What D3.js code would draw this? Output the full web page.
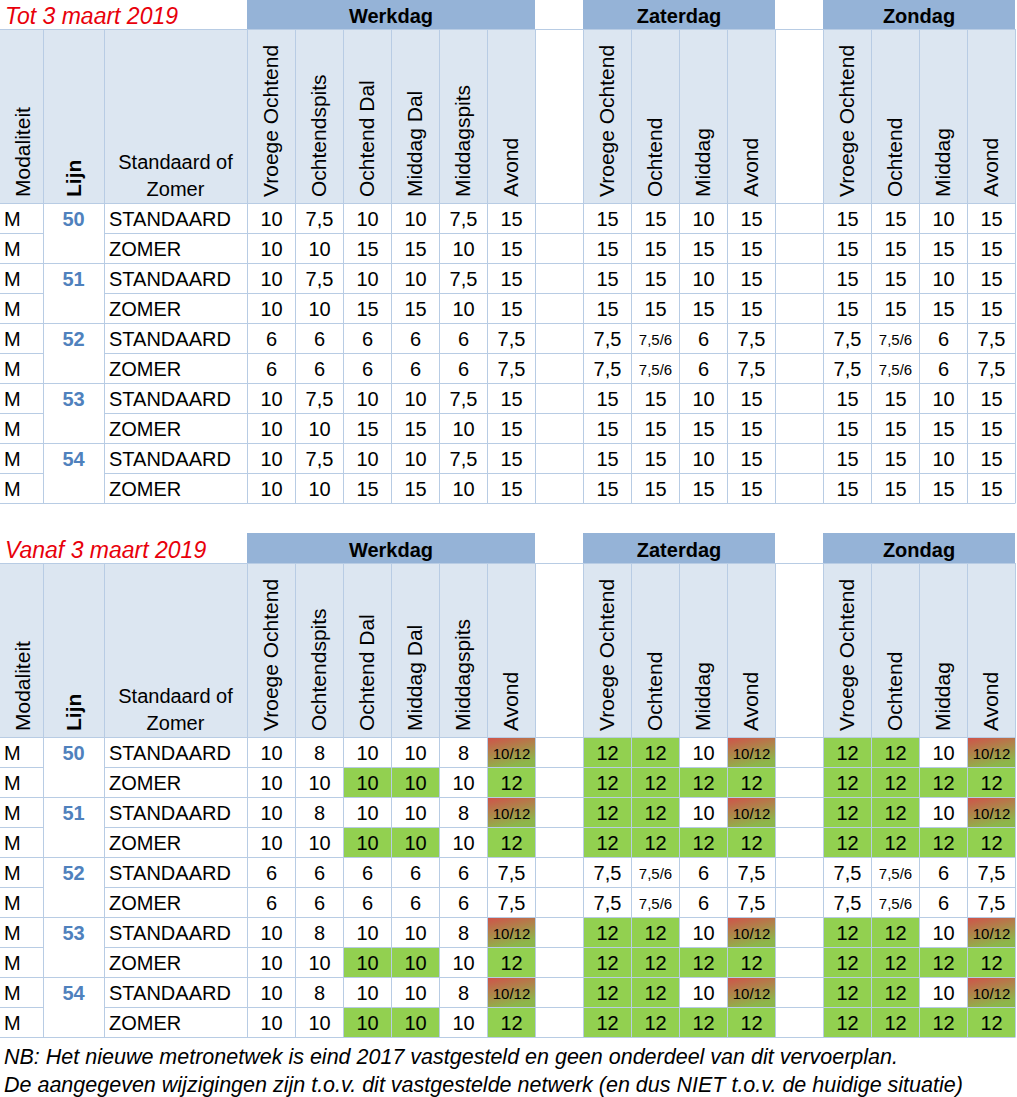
<!DOCTYPE html>
<html>
<head>
<meta charset="utf-8">
<script src="https://d3js.org/d3.v7.min.js"></script>
<style>
  body { margin: 0; background: #fff; }
  text { font-family: "Liberation Sans", Arial, sans-serif; }
</style>
</head>
<body>
<svg id="chart"></svg>
<script>
// ---- data ----
const lijnen = ["50", "51", "52", "53", "54"];
const varianten = ["STANDAARD", "ZOMER"];
const dagen = ["Werkdag", "Zaterdag", "Zondag"];
const dagdelenWerkdag = ["Vroege Ochtend", "Ochtendspits", "Ochtend Dal", "Middag Dal", "Middagspits", "Avond"];
const dagdelenWeekend = ["Vroege Ochtend", "Ochtend", "Middag", "Avond"];
const titels = ["Tot 3 maart 2019", "Vanaf 3 maart 2019"];

const totStandaard = ["10", "7,5", "10", "10", "7,5", "15", "15", "15", "10", "15", "15", "15", "10", "15"];
const totZomer     = ["10", "10", "15", "15", "10", "15", "15", "15", "15", "15", "15", "15", "15", "15"];
const tot52        = ["6", "6", "6", "6", "6", "7,5", "7,5", "7,5/6", "6", "7,5", "7,5", "7,5/6", "6", "7,5"];

const vanafStandaard = ["10", "8", "10", "10", "8", "10/12", "12", "12", "10", "10/12", "12", "12", "10", "10/12"];
const vanafZomer     = ["10", "10", "10", "10", "10", "12", "12", "12", "12", "12", "12", "12", "12", "12"];
const vanaf52        = tot52;

// g = groen (verhoogd), r = overgang 10/12
const kleurStandaard = ["", "", "", "", "", "r", "g", "g", "", "r", "g", "g", "", "r"];
const kleurZomer     = ["", "", "g", "g", "", "g", "g", "g", "g", "g", "g", "g", "g", "g"];

const voetnoten = [
  "NB: Het nieuwe metronetwek is eind 2017 vastgesteld en geen onderdeel van dit vervoerplan.",
  "De aangegeven wijzigingen zijn t.o.v. dit vastgestelde netwerk (en dus NIET t.o.v. de huidige situatie)"
];

// ---- layout ----
const W = 1017, H = 1097;
const grid = "#b8cce4", bandFill = "#95b3d7", headFill = "#dce6f1";
const green = "#92d050";

const svg = d3.select("#chart").attr("width", W).attr("height", H);

const defs = svg.append("defs");
const grad = defs.append("linearGradient").attr("id", "rg")
  .attr("x1", 0).attr("y1", 0).attr("x2", 0.4).attr("y2", 1);
grad.append("stop").attr("offset", "0%").attr("stop-color", "#d24f4a");
grad.append("stop").attr("offset", "100%").attr("stop-color", "#8db64a");

// value columns incl. the two blank spacer columns
const colKeys = [];
dagdelenWerkdag.forEach((d, i) => colKeys.push("w" + i));
colKeys.push("gap1");
dagdelenWeekend.forEach((d, i) => colKeys.push("z" + i));
colKeys.push("gap2");
dagdelenWeekend.forEach((d, i) => colKeys.push("s" + i));
const valueKeys = colKeys.filter(k => !k.startsWith("gap"));
const groups = [
  { name: dagen[0], keys: valueKeys.slice(0, 6), labels: dagdelenWerkdag },
  { name: dagen[1], keys: valueKeys.slice(6, 10), labels: dagdelenWeekend },
  { name: dagen[2], keys: valueKeys.slice(10, 14), labels: dagdelenWeekend }
];

const x = d3.scaleBand().domain(colKeys).range([247, 1015]);
const leftX = d3.scaleOrdinal().domain(["mod", "lijn", "var"]).range([0, 43, 104]);
const leftW = d3.scaleOrdinal().domain(["mod", "lijn", "var"]).range([43, 61, 143]);

function rowsFor(values52, std, zom, kStd, kZom) {
  const rows = [];
  lijnen.forEach(l => {
    varianten.forEach((v, vi) => {
      const is52 = l === "52";
      rows.push({
        lijn: vi === 0 ? l : "",
        variant: v,
        first: vi === 0,
        values: is52 ? values52 : (vi === 0 ? std : zom),
        kleur: is52 || !kStd ? null : (vi === 0 ? kStd : kZom)
      });
    });
  });
  return rows;
}

const sections = [
  { titel: titels[0], top: -1, rows: rowsFor(tot52, totStandaard, totZomer, null, null) },
  { titel: titels[1], top: 533, rows: rowsFor(vanaf52, vanafStandaard, vanafZomer, kleurStandaard, kleurZomer) }
];

sections.forEach(sec => {
  const g = svg.append("g");
  const bandTop = sec.top, headTop = sec.top + 30, headBot = sec.top + 204;
  const y = d3.scaleBand().domain(d3.range(sec.rows.length)).range([headBot, headBot + 300]);
  const xEnd = x.range()[1];

  // title
  g.append("text").attr("x", 5).attr("y", bandTop + 25)
    .attr("font-size", 23).attr("font-style", "italic").attr("fill", "#e8000b")
    .text(sec.titel);

  // day bands
  groups.forEach(gr => {
    const x0 = x(gr.keys[0]), x1 = x(gr.keys[gr.keys.length - 1]) + x.bandwidth();
    g.append("rect").attr("x", x0).attr("y", bandTop).attr("width", x1 - x0).attr("height", 30)
      .attr("fill", bandFill);
    g.append("text").attr("x", (x0 + x1) / 2).attr("y", bandTop + 24)
      .attr("text-anchor", "middle").attr("font-size", 20).attr("font-weight", "bold")
      .text(gr.name);
  });

  // header backgrounds
  ["mod", "lijn", "var"].forEach(k => {
    g.append("rect").attr("x", leftX(k)).attr("y", headTop).attr("width", leftW(k))
      .attr("height", headBot - headTop).attr("fill", headFill);
  });
  valueKeys.forEach(k => {
    g.append("rect").attr("x", x(k)).attr("y", headTop).attr("width", x.bandwidth())
      .attr("height", headBot - headTop).attr("fill", headFill);
  });

  // cell fills
  sec.rows.forEach((r, ri) => {
    if (!r.kleur) return;
    r.kleur.forEach((c, ci) => {
      if (!c) return;
      g.append("rect").attr("x", x(valueKeys[ci])).attr("y", y(ri))
        .attr("width", x.bandwidth()).attr("height", y.bandwidth())
        .attr("fill", c === "g" ? green : "url(#rg)");
    });
  });

  // grid lines
  const hl = g.append("g").attr("stroke", grid).attr("stroke-width", 1);
  hl.append("line").attr("x1", 0).attr("x2", xEnd).attr("y1", headTop + 0.5).attr("y2", headTop + 0.5);
  sec.rows.forEach((r, ri) => {
    const yy = y(ri) + 0.5;
    if (r.first) {
      hl.append("line").attr("x1", 0).attr("x2", xEnd).attr("y1", yy).attr("y2", yy);
    } else {
      hl.append("line").attr("x1", 0).attr("x2", leftX("lijn")).attr("y1", yy).attr("y2", yy);
      hl.append("line").attr("x1", leftX("var")).attr("x2", xEnd).attr("y1", yy).attr("y2", yy);
    }
  });
  const lastY = y(sec.rows.length - 1) + y.bandwidth() + 0.5;
  hl.append("line").attr("x1", 0).attr("x2", xEnd).attr("y1", lastY).attr("y2", lastY);
  const vEdges = [leftX("lijn"), leftX("var")].concat(colKeys.map(k => x(k)), [xEnd]);
  vEdges.forEach(vx => {
    hl.append("line").attr("x1", vx + 0.5).attr("x2", vx + 0.5).attr("y1", headTop).attr("y2", lastY);
  });

  // header labels
  const headText = (cx, label, bold) => g.append("text")
    .attr("transform", `translate(${cx + 7},${headBot - 6}) rotate(-90)`)
    .attr("font-size", 21).attr("font-weight", bold ? "bold" : "normal").text(label);
  headText(leftX("mod") + leftW("mod") / 2 + 1, "Modaliteit", false);
  headText(leftX("lijn") + leftW("lijn") / 2, "Lijn", true);
  const vc = leftX("var") + leftW("var") / 2;
  g.append("text").attr("x", vc).attr("y", headBot - 34).attr("text-anchor", "middle")
    .attr("font-size", 20).text("Standaard of");
  g.append("text").attr("x", vc).attr("y", headBot - 7).attr("text-anchor", "middle")
    .attr("font-size", 20).text("Zomer");
  groups.forEach(gr => {
    gr.keys.forEach((k, i) => headText(x(k) + x.bandwidth() / 2, gr.labels[i], false));
  });

  // data text
  sec.rows.forEach((r, ri) => {
    const by = y(ri) + y.bandwidth() / 2 + 8;
    g.append("text").attr("x", 4).attr("y", by).attr("font-size", 20).text("M");
    if (r.lijn) {
      g.append("text").attr("x", leftX("lijn") + leftW("lijn") / 2).attr("y", by)
        .attr("text-anchor", "middle").attr("font-size", 20).attr("font-weight", "bold")
        .attr("fill", "#4f81bd").text(r.lijn);
    }
    g.append("text").attr("x", leftX("var") + 5).attr("y", by).attr("font-size", 20).text(r.variant);
    r.values.forEach((v, ci) => {
      const small = v.includes("/");
      g.append("text").attr("x", x(valueKeys[ci]) + x.bandwidth() / 2 + 0.5)
        .attr("y", small ? by - 1 : by).attr("text-anchor", "middle")
        .attr("font-size", small ? 15 : 20).text(v);
    });
  });
});

// footnotes
voetnoten.forEach((t, i) => {
  svg.append("text").attr("x", 4).attr("y", 1064 + i * 28)
    .attr("font-size", 21.5).attr("font-style", "italic").text(t);
});
</script>
</body>
</html>
